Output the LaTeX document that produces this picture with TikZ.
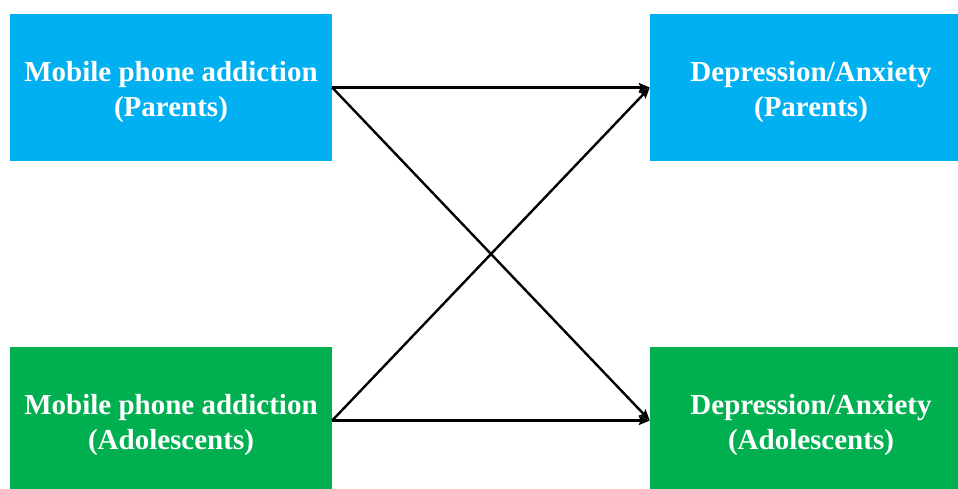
\documentclass[tikz,border=0pt]{standalone}
\definecolor{boxblue}{RGB}{0, 176, 240}
\definecolor{boxgreen}{RGB}{0, 176, 80}
\usepackage{fontspec}
\setmainfont{Liberation Serif}
\usepackage{tikz}
\usetikzlibrary{arrows.meta, positioning}

\tikzset{
  varbox/.style={minimum width=322pt, minimum height=147pt, inner sep=0pt},
  boxtext/.style={align=center, text=white, yshift=-5pt, font=\fontsize{29}{35}\selectfont\bfseries},
  parentbox/.style={varbox, fill=boxblue},
  teenbox/.style={varbox, fill=boxgreen},
  link/.style={-{Stealth[length=11pt, width=9pt, inset=2pt]}, line width=2.4pt, black}
}

\begin{document}
\begin{tikzpicture}[x=1pt, y=-1pt]
  \useasboundingbox (0, 0) rectangle (958, 489);
  \clip (0, 0) rectangle (958, 489);

  % predictors
  \node[parentbox, label={[boxtext]center:Mobile phone addiction\\(Parents)}] (mpaP) at (171, 87.5) {};
  \node[teenbox, label={[boxtext]center:Mobile phone addiction\\(Adolescents)}] (mpaA) at (171, 420.5) {};

  % outcomes
  \node[parentbox, label={[boxtext]center:Depression/Anxiety\\(Parents)}] (depP) at (811, 87.5) {};
  \node[teenbox, label={[boxtext]center:Depression/Anxiety\\(Adolescents)}] (depA) at (811, 420.5) {};

  % paths
  \draw[link] (mpaP.east) -- (depP.west);
  \draw[link] (mpaP.east) -- (depA.west);
  \draw[link] (mpaA.east) -- (depP.west);
  \draw[link] (mpaA.east) -- (depA.west);
\end{tikzpicture}
\end{document}
